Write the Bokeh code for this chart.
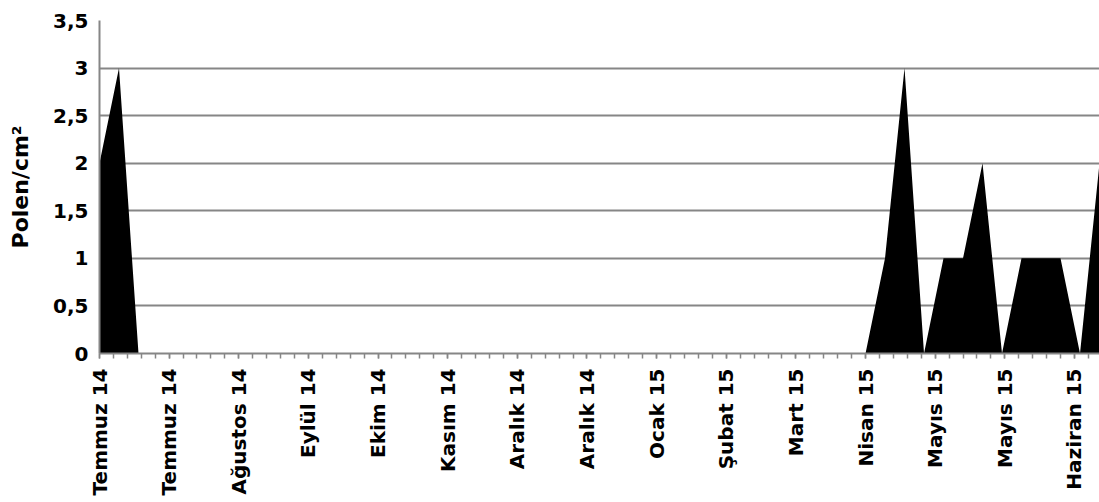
from bokeh.plotting import figure
from bokeh.models import FixedTicker, Range1d
from bokeh.embed import file_html
from bokeh.resources import INLINE

# sampling days (days since 5 July 2014)
days = [0, 7, 14, 21, 28, 35, 42, 49, 56, 63, 70, 77, 84, 91, 98, 105, 112, 119,
        126, 133, 140, 147, 154, 161, 168, 175, 182, 189, 196, 203, 210, 217, 224,
        231, 238, 245, 252, 259, 266, 273,
        275, 282, 289, 296, 303, 310, 317, 324, 331, 338, 345, 352, 359]
pollen = [2, 3, 0, 0, 0, 0, 0, 0, 0, 0, 0, 0, 0, 0, 0, 0, 0, 0,
          0, 0, 0, 0, 0, 0, 0, 0, 0, 0, 0, 0, 0, 0, 0,
          0, 0, 0, 0, 0, 0, 0,
          0, 1, 3, 0, 1, 1, 2, 0, 1, 1, 1, 0, 2]

label_days = [0, 25, 50, 75, 100, 125, 150, 175, 200, 225, 250, 275, 300, 325, 350]
label_texts = ["Temmuz 14", "Temmuz 14", "Ağustos 14", "Eylül 14", "Ekim 14",
               "Kasım 14", "Aralık 14", "Aralık 14", "Ocak 15", "Şubat 15",
               "Mart 15", "Nisan 15", "Mayıs 15", "Mayıs 15", "Haziran 15"]
minor_days = list(range(0, 360, 5))

y_ticks = [0, 0.5, 1, 1.5, 2, 2.5, 3, 3.5]
y_texts = ["0", "0,5", "1", "1,5", "2", "2,5", "3", "3,5"]

GRAY = "#868686"
FONT = "DejaVu Sans"

p = figure(width=1099, height=502, output_backend="svg", toolbar_location=None,
           x_range=Range1d(0, 359), y_range=Range1d(0, 3.5),
           min_border_left=99, min_border_right=0, min_border_top=20,
           min_border_bottom=149)
p.outline_line_color = None
p.background_fill_color = "white"
p.border_fill_color = "white"

p.varea(x=days, y1=[0] * len(days), y2=pollen, fill_color="black")

# x axis
p.xaxis.ticker = FixedTicker(ticks=label_days, minor_ticks=minor_days)
p.xaxis.major_label_overrides = {d: t for d, t in zip(label_days, label_texts)}
p.xaxis.major_label_orientation = 1.5707963267948966
p.xaxis.major_label_text_font = FONT
p.xaxis.major_label_text_font_style = "bold"
p.xaxis.major_label_text_font_size = "20px"
p.xaxis.major_label_text_color = "black"
p.xaxis.major_label_standoff = 10
p.xaxis.axis_line_color = GRAY
p.xaxis.axis_line_width = 2
p.xaxis.major_tick_line_color = GRAY
p.xaxis.minor_tick_line_color = GRAY
p.xaxis.major_tick_line_width = 1.5
p.xaxis.minor_tick_line_width = 1.5
p.xaxis.major_tick_out = 5
p.xaxis.major_tick_in = 0
p.xaxis.minor_tick_out = 5
p.xaxis.minor_tick_in = 0

# y axis
p.yaxis.ticker = FixedTicker(ticks=y_ticks)
p.yaxis.major_label_overrides = {v: t for v, t in zip(y_ticks, y_texts)}
p.yaxis.major_label_text_font = FONT
p.yaxis.major_label_text_font_style = "bold"
p.yaxis.major_label_text_font_size = "20px"
p.yaxis.major_label_text_color = "black"
p.yaxis.major_label_standoff = 11
p.yaxis.axis_line_color = GRAY
p.yaxis.axis_line_width = 2
p.yaxis.major_tick_out = 0
p.yaxis.major_tick_in = 0
p.yaxis.minor_tick_out = 0
p.yaxis.minor_tick_in = 0
p.yaxis.major_tick_line_color = None
p.yaxis.minor_tick_line_color = None
p.yaxis.axis_label = "Polen/cm²"
p.yaxis.axis_label_text_font = FONT
p.yaxis.axis_label_text_font_style = "bold"
p.yaxis.axis_label_text_font_size = "22px"
p.yaxis.axis_label_text_color = "black"
p.yaxis.axis_label_standoff = 17

p.xgrid.grid_line_color = None
p.ygrid.grid_line_color = GRAY
p.ygrid.grid_line_width = 2
p.ygrid.level = "underlay"

open("out.html", "w").write(file_html(p, INLINE))
